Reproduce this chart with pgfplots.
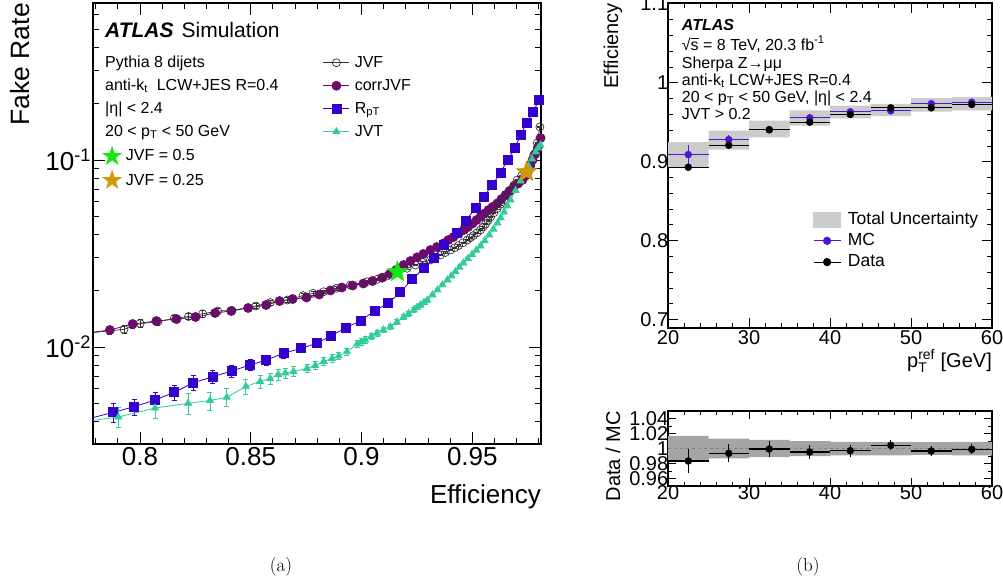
\documentclass[border=0pt]{standalone}
\usepackage{fontspec}
\usepackage{amsmath}
\usepackage{pgfplots}
\usepackage{pgfplotstable}
\pgfplotsset{compat=1.18}
\newfontfamily\hv{Liberation Sans}
\newfontfamily\djv{DejaVu Sans}
\newcommand\hvf[1]{\hv\fontsize{#1}{#1}\selectfont}
\definecolor{cjvf}{RGB}{50,50,50}
\definecolor{ccorr}{RGB}{110,10,110}
\definecolor{crpt}{RGB}{51,0,204}
\definecolor{cjvt}{RGB}{51,204,153}
\definecolor{cgreen}{RGB}{20,230,20}
\definecolor{corange}{RGB}{210,150,10}
\definecolor{cmc}{RGB}{80,20,210}
\definecolor{cunc}{RGB}{204,204,204}
\definecolor{cratio}{RGB}{165,165,165}
\pgfdeclareplotmark{fstar}{%
\pgfpathmoveto{\pgfpointpolar{90}{\pgfplotmarksize}}%
\pgfpathlineto{\pgfpointpolar{126}{0.42*\pgfplotmarksize}}%
\pgfpathlineto{\pgfpointpolar{162}{\pgfplotmarksize}}%
\pgfpathlineto{\pgfpointpolar{198}{0.42*\pgfplotmarksize}}%
\pgfpathlineto{\pgfpointpolar{234}{\pgfplotmarksize}}%
\pgfpathlineto{\pgfpointpolar{270}{0.42*\pgfplotmarksize}}%
\pgfpathlineto{\pgfpointpolar{306}{\pgfplotmarksize}}%
\pgfpathlineto{\pgfpointpolar{342}{0.42*\pgfplotmarksize}}%
\pgfpathlineto{\pgfpointpolar{18}{\pgfplotmarksize}}%
\pgfpathlineto{\pgfpointpolar{54}{0.42*\pgfplotmarksize}}%
\pgfpathclose\pgfusepathqfillstroke}

\pgfplotstableread{
eff fr err
0.7729 0.01174 0
0.7864 0.01233 0.05
0.7967 0.01327 0.05
0.8074 0.01377 0.045
0.8165 0.01411 0.04
0.8251 0.01447 0.04
0.8339 0.01520 0.04
0.8412 0.01558 0.035
0.8488 0.01617 0.035
0.8569 0.01677 0.03
0.8630 0.01762 0.03
0.8689 0.01805 0.03
0.8752 0.01839 0.025
0.8809 0.01909 0.025
0.8860 0.02005 0.02
0.8911 0.02080 0.02
0.8960 0.02132 0.02
0.9008 0.02185 0.015
0.9049 0.02253 0.015
0.9093 0.02347 0.015
0.9127 0.02457 0.01
0.9157 0.02581 0.01
0.9190 0.02745 0.01
0.9221 0.02884 0.01
0.9251 0.03018 0.01
0.9279 0.03143 0.01
0.9311 0.03301 0.01
0.9340 0.03425 0.01
0.9371 0.03584 0.01
0.9392 0.03734 0.01
0.9415 0.03875 0.01
0.9438 0.04046 0.01
0.9462 0.04223 0.01
0.9481 0.04382 0.01
0.9501 0.04575 0.01
0.9519 0.04775 0.01
0.9537 0.04974 0.01
0.9555 0.05174 0.01
0.9573 0.05403 0.01
0.9591 0.05606 0.01
0.9613 0.05866 0.01
0.9632 0.06186 0.01
0.9650 0.06499 0.01
0.9668 0.06826 0.01
0.9688 0.07197 0.01
0.9707 0.07488 0.01
0.9726 0.07816 0.01
0.9738 0.08212 0.01
0.9750 0.08626 0.01
0.9761 0.09288 0.01
0.9772 0.1000 0.01
0.9784 0.1077 0.01
0.9795 0.1159 0.01
0.9808 0.1311 0.01
}\corrjvf

\pgfplotstableread{
eff fr err
0.7729 0.01174 0
0.7928 0.01243 0.05
0.8001 0.01335 0.05
0.8081 0.01365 0.045
0.8155 0.01424 0.04
0.8219 0.01456 0.04
0.8283 0.01505 0.04
0.8351 0.01558 0.035
0.8415 0.01567 0.035
0.8523 0.01657 0.03
0.8588 0.01730 0.03
0.8665 0.01783 0.03
0.8736 0.01885 0.025
0.8781 0.01937 0.025
0.8829 0.01975 0.02
0.8886 0.02060 0.02
0.8949 0.02145 0.02
0.9025 0.02234 0.015
0.9070 0.02301 0.015
0.9115 0.02397 0.01
0.9157 0.02518 0.01
0.9206 0.02636 0.01
0.9243 0.02745 0.01
0.9275 0.02830 0.01
0.9311 0.02919 0.01
0.9333 0.03010 0.01
0.9356 0.03105 0.01
0.9378 0.03200 0.01
0.9401 0.03301 0.01
0.9420 0.03395 0.01
0.9438 0.03489 0.01
0.9458 0.03610 0.01
0.9477 0.03734 0.01
0.9491 0.03840 0.01
0.9505 0.03947 0.01
0.9521 0.04080 0.01
0.9537 0.04223 0.01
0.9548 0.04380 0.01
0.9560 0.04547 0.01
0.9571 0.04750 0.01
0.9582 0.04956 0.01
0.9597 0.05220 0.01
0.9612 0.05504 0.01
0.9627 0.05800 0.01
0.9642 0.06110 0.01
0.9658 0.06500 0.01
0.9673 0.06910 0.01
0.9688 0.07350 0.01
0.9703 0.07816 0.01
0.9722 0.08212 0.01
0.9745 0.08626 0.01
0.9763 0.09520 0.01
0.9777 0.1063 0.01
0.9793 0.1233 0.01
0.9805 0.1502 0.01
}\jvf

\pgfplotstableread{
eff fr err
0.7729 0.004019 0
0.7879 0.004474 0.117
0.7974 0.004794 0.10
0.8068 0.005207 0.10
0.8155 0.005725 0.09
0.8241 0.006443 0.09
0.8329 0.006938 0.08
0.8414 0.007441 0.07
0.8497 0.008013 0.07
0.8570 0.008523 0.06
0.8648 0.009254 0.06
0.8727 0.00984 0.05
0.8799 0.01046 0.05
0.8863 0.01149 0.04
0.8930 0.01268 0.04
0.8995 0.01382 0.03
0.9059 0.01558 0.03
0.9120 0.01713 0.02
0.9175 0.01961 0.02
0.9228 0.02301 0.02
0.9281 0.02636 0.015
0.9326 0.02981 0.01
0.9371 0.03511 0.01
0.9429 0.04087 0.01
0.9469 0.04735 0.01
0.9514 0.05517 0.01
0.9552 0.06364 0.01
0.9590 0.07349 0.01
0.9627 0.08553 0.01
0.9660 0.1000 0.01
0.9692 0.1155 0.01
0.9718 0.1361 0.01
0.9745 0.1583 0.01
0.9775 0.1813 0.01
0.9801 0.2094 0.01
}\rpt

\pgfplotstableread{
eff fr err
0.7729 0.00397 0
0.7903 0.004222 0.12
0.8068 0.004718 0.12
0.8217 0.004999 0.13
0.8316 0.005175 0.11
0.8392 0.005383 0.11
0.8478 0.006165 0.09
0.8542 0.006539 0.08
0.8588 0.006786 0.07
0.8624 0.007129 0.07
0.8656 0.007261 0.06
0.8693 0.007396 0.06
0.8754 0.00769 0.05
0.8791 0.007964 0.05
0.8829 0.008367 0.05
0.8867 0.008681 0.05
0.8897 0.008953 0.045
0.8934 0.009438 0.04
0.8980 0.01037 0.04
0.8999 0.01064 0.04
0.9017 0.01090 0.04
0.9044 0.01138 0.035
0.9070 0.01184 0.035
0.9099 0.01233 0.03
0.9130 0.01284 0.03
0.9160 0.0136 0.03
0.9190 0.01447 0.03
0.9212 0.0151 0.03
0.9236 0.01577 0.03
0.9250 0.01627 0.025
0.9266 0.01677 0.025
0.9282 0.0173 0.025
0.9297 0.01783 0.025
0.9320 0.0190 0.02
0.9343 0.02018 0.02
0.9365 0.0215 0.02
0.9388 0.02281 0.02
0.9406 0.0240 0.02
0.9424 0.02533 0.02
0.9442 0.0267 0.02
0.9460 0.02813 0.02
0.9480 0.0297 0.015
0.9499 0.03124 0.015
0.9518 0.0329 0.015
0.9537 0.03467 0.015
0.9556 0.0370 0.01
0.9576 0.03971 0.01
0.9595 0.0427 0.01
0.9614 0.04603 0.01
0.9628 0.0490 0.01
0.9643 0.05272 0.01
0.9658 0.0568 0.01
0.9673 0.0611 0.01
0.9695 0.06867 0.01
0.9718 0.07721 0.01
0.9736 0.0847 0.01
0.9754 0.09288 0.01
0.9770 0.1012 0.01
0.9786 0.1104 0.01
0.9797 0.1159 0.01
0.9808 0.1203 0.01
}\jvt

% total uncertainty band (outline of the boxes, upper edge then lower edge)
\pgfplotstableread{
x y
20 0.9247
25 0.9247
25 0.9395
30 0.9395
30 0.9520
35 0.9520
35 0.9649
40 0.9649
40 0.9712
45 0.9712
45 0.9734
50 0.9734
50 0.9805
55 0.9805
55 0.9823
60 0.9823
60 0.9649
55 0.9649
55 0.9636
50 0.9636
50 0.9577
45 0.9577
45 0.9548
40 0.9548
40 0.9459
35 0.9459
35 0.9310
30 0.9310
30 0.9155
25 0.9155
25 0.8923
20 0.8923
}\bandtab

\pgfplotstableread{
x y
20 1.0167
25 1.0167
25 1.0133
30 1.0133
30 1.0115
35 1.0115
35 1.0100
40 1.0100
40 1.0090
45 1.0090
45 1.0090
50 1.0090
50 1.0085
55 1.0085
55 1.0090
60 1.0090
60 0.9910
55 0.9910
55 0.9915
50 0.9915
50 0.9910
45 0.9910
45 0.9910
40 0.9910
40 0.9900
35 0.9900
35 0.9885
30 0.9885
30 0.9867
25 0.9867
25 0.9833
20 0.9833
}\rbandtab

\pgfplotstableread{
x mc mcerr data derr r rerr
22.5 0.9091 0.0127 0.8930 0.002 0.9833 0.0156
27.5 0.9281 0.0060 0.9209 0.002 0.9936 0.0120
32.5 0.9408 0.0030 0.9404 0.002 0.9993 0.0110
37.5 0.9556 0.0030 0.9501 0.002 0.9953 0.0095
42.5 0.9632 0.0030 0.9598 0.002 0.9971 0.0080
47.5 0.9645 0.0030 0.9683 0.002 1.0042 0.0067
52.5 0.9734 0.0030 0.9683 0.002 0.9967 0.0067
57.5 0.9754 0.0030 0.9725 0.002 0.9989 0.0067
}\ptstab

\begin{document}
\begin{tikzpicture}
\useasboundingbox (0pt,0pt) rectangle (1003pt,-584pt);
% ---------------- left panel
\begin{axis}[
  scale only axis, width=448pt, height=441pt,
  at={(93pt,-444pt)}, anchor=south west,
  xmin=0.7788, xmax=0.981,
  ymode=log, ymin=0.003029, ymax=0.691,
  xtick={0.8,0.85,0.9,0.95},
  minor xtick={0.78,0.79,0.81,0.82,0.83,0.84,0.86,0.87,0.88,0.89,0.91,0.92,0.93,0.94,0.96,0.97,0.98},
  ytick={0.01,0.1}, yticklabels={10\textsuperscript{-2},10\textsuperscript{-1}},
  minor ytick={0.004,0.005,0.006,0.007,0.008,0.009,0.02,0.03,0.04,0.05,0.06,0.07,0.08,0.09,0.2,0.3,0.4,0.5,0.6},
  tick align=inside, major tick length=12pt, minor tick length=6pt,
  every tick/.style={black, line width=0.9pt},
  axis line style={line width=1.2pt},
  tick label style={font=\hvf{26}},
  /pgf/number format/assume math mode=true,
  yticklabel style={xshift=1.5pt},
  legend style={draw=none, fill=none, at={(0.5134,0.8821)}, anchor=north west,
    inner sep=0pt, outer sep=0pt, row sep=7.5pt, column sep=5pt, font=\hvf{16},
    nodes={inner sep=0pt, text height=12pt, text depth=3.5pt}},
  legend cell align=left,
  legend image code/.code={\draw[mark repeat=2, mark phase=2, #1] plot coordinates {(0pt,0pt) (13pt,0pt) (26pt,0pt)};},
]
\addplot[ccorr, line width=0.8pt, mark=*, mark size=4.5pt, forget plot,
  error bars/.cd, y dir=both, y explicit relative, error bar style={line width=0.8pt},
  error mark options={rotate=90, mark size=2.5pt, line width=0.8pt}]
  table[x=eff, y=fr, y error=err]{\corrjvf};
\addplot[cjvf, line width=0.7pt, mark=o, mark size=4pt, mark options={line width=0.7pt}, forget plot,
  error bars/.cd, y dir=both, y explicit relative, error bar style={line width=0.7pt},
  error mark options={rotate=90, mark size=2.5pt, line width=0.7pt}]
  table[x=eff, y=fr, y error=err]{\jvf};
\addplot[crpt, line width=0.8pt, mark=square*, mark size=4.5pt, forget plot,
  error bars/.cd, y dir=both, y explicit relative, error bar style={line width=0.8pt},
  error mark options={rotate=90, mark size=2.5pt, line width=0.8pt}]
  table[x=eff, y=fr, y error=err]{\rpt};
\addplot[cjvt, line width=0.8pt, mark=triangle*, mark size=4pt, forget plot,
  error bars/.cd, y dir=both, y explicit relative, error bar style={line width=0.8pt},
  error mark options={rotate=90, mark size=2.5pt, line width=0.8pt}]
  table[x=eff, y=fr, y error=err]{\jvt};
\addplot[only marks, mark=fstar, mark size=11pt, fill=cgreen, draw=cgreen, forget plot]
  coordinates {(0.9162,0.0252)};
\addplot[only marks, mark=fstar, mark size=11pt, fill=corange, draw=corange, forget plot]
  coordinates {(0.9745,0.0863)};
\addlegendimage{cjvf, line width=0.7pt, mark=o, mark size=4pt}
\addlegendentry{JVF}
\addlegendimage{ccorr, line width=0.8pt, mark=*, mark size=4.5pt}
\addlegendentry{corrJVF}
\addlegendimage{crpt, line width=0.8pt, mark=square*, mark size=4.5pt}
\addlegendentry{R\textsubscript{pT}}
\addlegendimage{cjvt, line width=0.8pt, mark=triangle*, mark size=4pt}
\addlegendentry{JVT}
\end{axis}
\node[anchor=base west, inner sep=0pt, font=\hvf{21}] at (105pt,-37pt) {{\bfseries\itshape ATLAS}\hspace{8pt}Simulation};
\node[anchor=base west, inner sep=0pt, font=\hvf{16}] at (105pt,-67pt) {Pythia 8 dijets};
\node[anchor=base west, inner sep=0pt, font=\hvf{16}] at (105pt,-90pt) {anti-k\textsubscript{t}\ \ LCW+JES R=0.4};
\node[anchor=base west, inner sep=0pt, font=\hvf{16}] at (105pt,-113pt) {|η| < 2.4};
\node[anchor=base west, inner sep=0pt, font=\hvf{16}] at (105pt,-136pt) {20 < p\textsubscript{T} < 50 GeV};
\node[inner sep=0pt, font=\djv\fontsize{27}{27}\selectfont, text=cgreen] at (112.3pt,-155.7pt) {★};
\node[inner sep=0pt, font=\djv\fontsize{27}{27}\selectfont, text=corange] at (112.3pt,-180pt) {★};
\node[anchor=base west, inner sep=0pt, font=\hvf{16}] at (125.7pt,-160.7pt) {JVF = 0.5};
\node[anchor=base west, inner sep=0pt, font=\hvf{16}] at (125.7pt,-185.7pt) {JVF = 0.25};
\node[rotate=90, anchor=east, inner sep=0pt, font=\hvf{26.5}] at (20pt,-3pt) {Fake Rate};
\node[anchor=base east, inner sep=0pt, font=\hvf{26}] at (541pt,-503pt) {Efficiency};
\node[inner sep=0pt, font=\rmfamily\fontsize{19}{22}\selectfont] at (281pt,-567pt) {(a)};
% ---------------- right top panel
\begin{axis}[
  scale only axis, width=324pt, height=325pt,
  at={(668pt,-328pt)}, anchor=south west,
  xmin=20, xmax=60, ymin=0.6895, ymax=1.101,
  xtick={20,30,40,50,60}, minor x tick num=4,
  ytick={0.7,0.8,0.9,1,1.1}, minor y tick num=4,
  tick align=inside, major tick length=10pt, minor tick length=5pt,
  every tick/.style={black, line width=0.9pt},
  axis line style={line width=1.2pt},
  tick label style={font=\hvf{20}},
  /pgf/number format/assume math mode=true,
  yticklabel style={xshift=3.7pt}, xticklabel style={yshift=1.2pt},
  legend style={draw=none, fill=none, at={(0.4475,0.36)}, anchor=north west,
    inner sep=0pt, outer sep=0pt, row sep=4.3pt, column sep=6.7pt, font=\hvf{17.5},
    nodes={inner sep=0pt, text height=13pt, text depth=4pt}},
  legend cell align=left,
  legend image code/.code={\draw[mark repeat=2, mark phase=2, #1] plot coordinates {(0pt,0pt) (13.5pt,0pt) (27pt,0pt)};},
]
\addplot[fill=cunc, draw=none, forget plot] table[x=x, y=y]{\bandtab} -- cycle;
\addplot[cmc, only marks, mark=*, mark size=3.5pt, forget plot,
  error bars/.cd, x dir=both, x fixed=2.5, y dir=both, y explicit, error mark=none,
  error bar style={line width=1.2pt}]
  table[x=x, y=mc, y error=mcerr]{\ptstab};
\addplot[black, only marks, mark=*, mark size=3.5pt, forget plot,
  error bars/.cd, x dir=both, x fixed=2.5, y dir=both, y explicit, error mark=none,
  error bar style={line width=1.2pt}]
  table[x=x, y=data, y error=derr]{\ptstab};
\addlegendimage{legend image code/.code={\fill[cunc] (0pt,-7.5pt) rectangle (27pt,7.5pt);}}
\addlegendentry{Total Uncertainty}
\addlegendimage{cmc, line width=1.2pt, mark=*, mark size=3.5pt}
\addlegendentry{MC}
\addlegendimage{black, line width=1.2pt, mark=*, mark size=3.5pt}
\addlegendentry{Data}
\end{axis}
\node[anchor=base west, inner sep=0pt, font=\hvf{16}] at (681.7pt,-30pt) {\bfseries\itshape ATLAS};
\node[anchor=base west, inner sep=0pt, font=\hvf{16}] at (681.7pt,-50pt) {√\makebox[0pt][l]{\rule[11.2pt]{8.5pt}{0.7pt}}s = 8 TeV, 20.3 fb\textsuperscript{-1}};
\node[anchor=base west, inner sep=0pt, font=\hvf{16}] at (681.7pt,-68pt) {Sherpa Z→μμ};
\node[anchor=base west, inner sep=0pt, font=\hvf{16}] at (681.7pt,-85pt) {anti-k\textsubscript{t} LCW+JES R=0.4};
\node[anchor=base west, inner sep=0pt, font=\hvf{16}] at (681.7pt,-102pt) {20 < p\textsubscript{T} < 50 GeV, |η| < 2.4};
\node[anchor=base west, inner sep=0pt, font=\hvf{16}] at (681.7pt,-119pt) {JVT > 0.2};
\node[rotate=90, anchor=east, inner sep=0pt, font=\hvf{20}] at (613pt,-3pt) {Efficiency};
\node[anchor=base east, inner sep=0pt, font=\hvf{20}] at (992pt,-367pt) {$\text{p}_{\text{T}}^{\text{ref}}$ [GeV]};
% ---------------- ratio panel
\begin{axis}[
  scale only axis, width=324pt, height=75pt,
  at={(668pt,-486pt)}, anchor=south west,
  xmin=20, xmax=60, ymin=0.95, ymax=1.05,
  xtick={20,30,40,50,60}, minor x tick num=4,
  ytick={0.96,0.98,1,1.02,1.04}, minor y tick num=1,
  tick align=inside, major tick length=8pt, minor tick length=4pt,
  every tick/.style={black, line width=0.9pt},
  axis line style={line width=1.2pt},
  tick label style={font=\hvf{20}},
  /pgf/number format/assume math mode=true,
  yticklabel style={xshift=3.7pt}, xticklabel style={yshift=3.7pt},
]
\addplot[fill=cratio, draw=none, forget plot] table[x=x, y=y]{\rbandtab} -- cycle;
\addplot[gray, dashed, line width=0.8pt, forget plot] coordinates {(20,1) (60,1)};
\addplot[black, only marks, mark=*, mark size=3.5pt, forget plot,
  error bars/.cd, x dir=both, x fixed=2.5, y dir=both, y explicit, error mark=none,
  error bar style={line width=1.2pt}]
  table[x=x, y=r, y error=rerr]{\ptstab};
\end{axis}
\node[rotate=90, anchor=east, inner sep=0pt, font=\hvf{20}] at (613pt,-411pt) {Data / MC};
\node[inner sep=0pt, font=\rmfamily\fontsize{19}{22}\selectfont] at (808pt,-567pt) {(b)};
\end{tikzpicture}
\end{document}
